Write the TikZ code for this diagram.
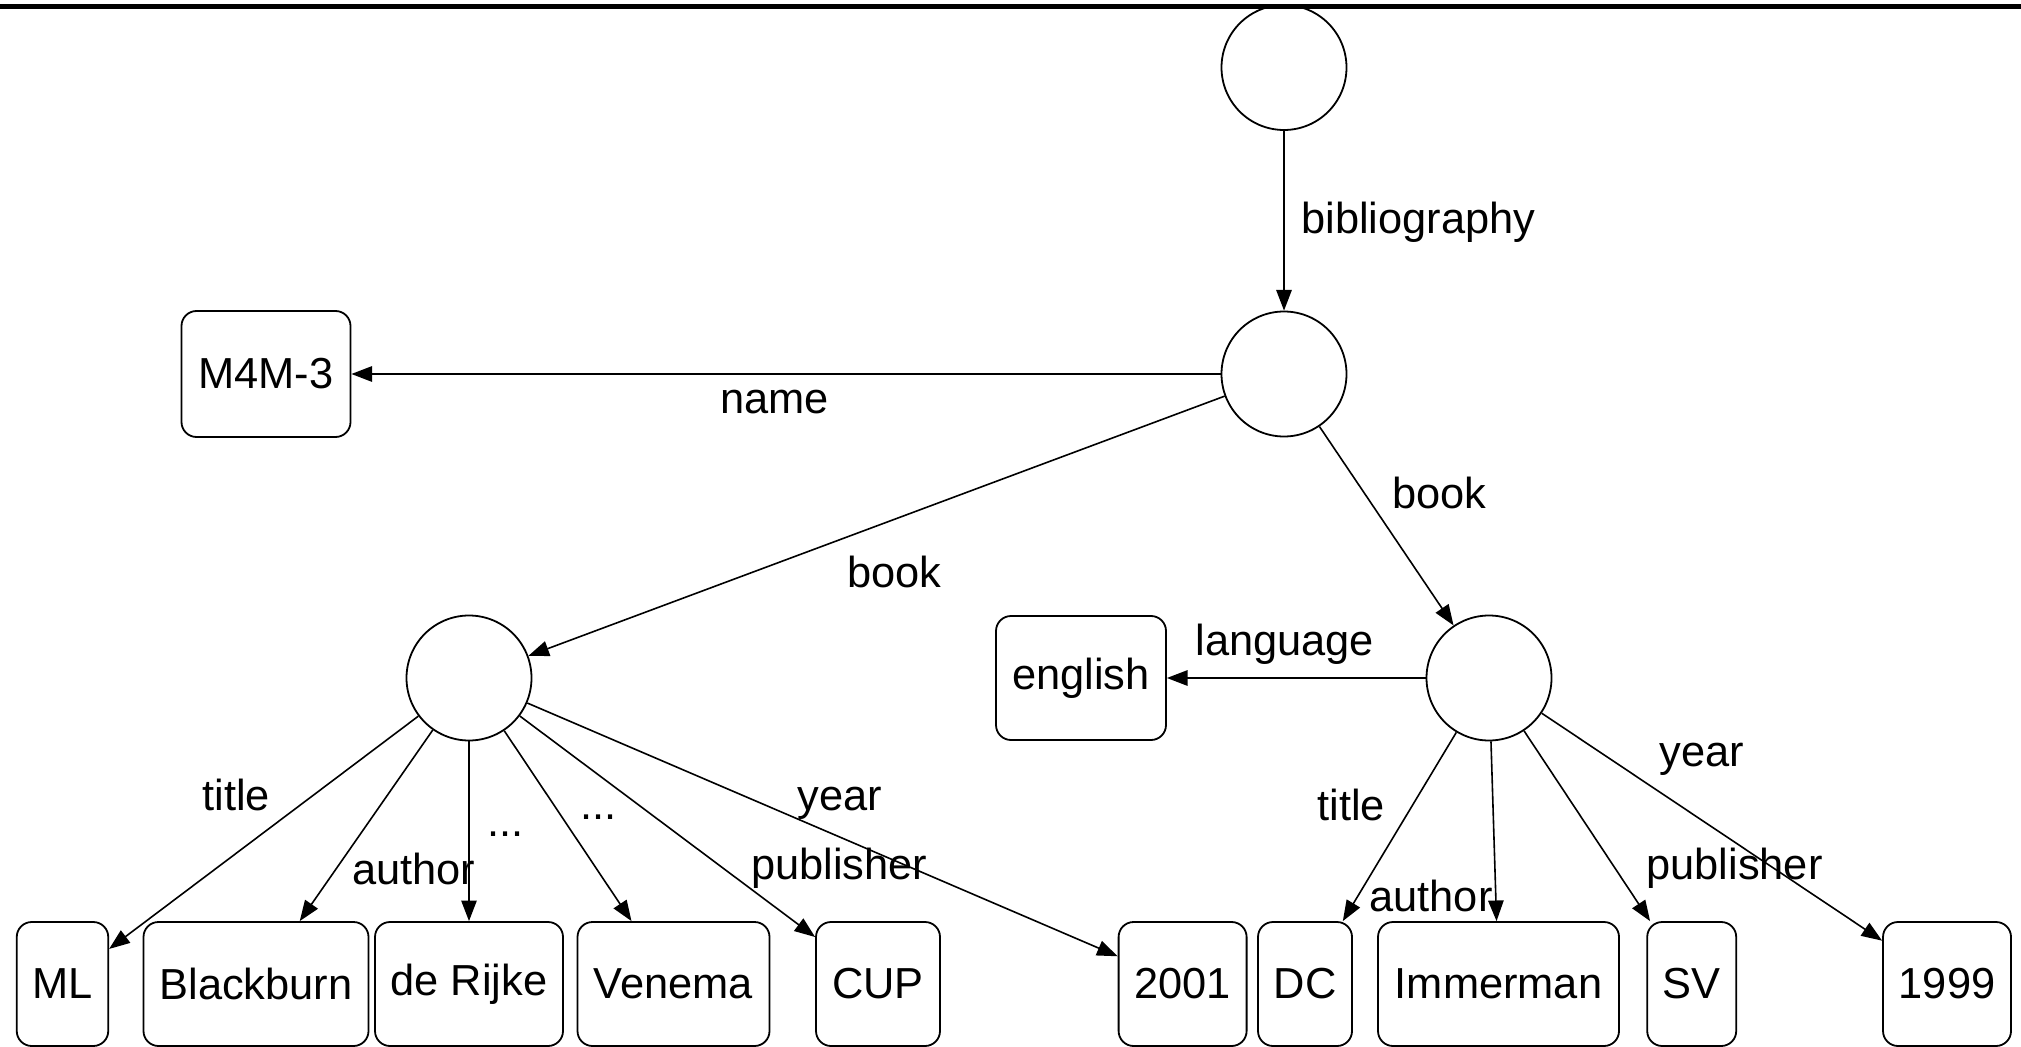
\documentclass[tikz,border=0pt]{standalone}
\usepackage{fontspec}
\setmainfont{Liberation Sans}
\usetikzlibrary{arrows.meta}
\begin{document}
\begin{tikzpicture}[x=0.5pt,y=-0.5pt,
  every node/.style={font=\fontsize{21.7pt}{26pt}\selectfont},
  circ/.style={draw, circle, line width=0.9pt, minimum size=62.5pt, inner sep=0pt},
  valbox/.style={draw, rectangle, rounded corners=7.5pt, line width=0.9pt, minimum height=62pt, inner sep=0pt},
  lbl/.style={anchor=base west, inner sep=0pt},
  arr/.style={line width=0.8pt, -{Triangle[length=10.3pt,width=7.7pt]}}
]
\useasboundingbox (0,0) rectangle (2021,1047);
% circles
\node[circ] (top) at (1284,67.5) {};
\node[circ] (root) at (1284,374) {};
\node[circ] (bookL) at (469,678) {};
\node[circ] (bookR) at (1489,678) {};
% value boxes
\node[valbox, minimum width=84.5pt, minimum height=63pt] (m4m) at (266,374) {M4M-3};
\node[valbox, minimum width=85pt] (english) at (1081,678) {english};
\node[valbox, minimum width=45.75pt] (ml) at (62.5,984) {ML};
\node[valbox, minimum width=112.5pt] (blackburn) at (256,984) {Blackburn};
\node[valbox, minimum width=94pt] (derijke) at (469,984) {de Rijke};
\node[valbox, minimum width=96pt] (venema) at (673.5,984) {Venema};
\node[valbox, minimum width=62pt] (cup) at (878,984) {CUP};
\node[valbox, minimum width=64pt] (y2001) at (1182.6,984) {2001};
\node[valbox, minimum width=47pt] (dc) at (1305,984) {DC};
\node[valbox, minimum width=120.5pt] (immerman) at (1498.5,984) {Immerman};
\node[valbox, minimum width=44.5pt] (sv) at (1691.7,984) {SV};
\node[valbox, minimum width=64pt] (y1999) at (1947,984) {1999};
% connectors
\draw[arr] (top) -- (root);
\draw[arr] (root) -- (m4m);
\draw[arr] (root) -- (bookL);
\draw[arr] (root) -- (bookR);
\draw[arr] (bookR) -- (english);
\draw[arr] (bookL) -- (ml);
\draw[arr] (bookL) -- (blackburn);
\draw[arr] (bookL) -- (derijke);
\draw[arr] (bookL) -- (venema);
\draw[arr] (bookL) -- (cup);
\draw[arr] (bookL) -- (y2001);
\draw[arr] (bookR) -- (dc);
\draw[arr] (bookR) -- (immerman);
\draw[arr] (bookR) -- (sv);
\draw[arr] (bookR) -- (y1999);
% labels
\node[lbl] (l-bib) at (1301,234) {bibliography};
\node[lbl] (l-name) at (720,414) {name};
\node[lbl] (l-bookL) at (847,587) {book};
\node[lbl] (l-bookR) at (1392,508) {book};
\node[lbl] (l-lang) at (1195,655) {language};
\node[lbl] (l-titleL) at (202,810) {title};
\node[lbl] (l-authorL) at (352,884) {author};
\node[lbl] (l-dots1) at (487,836) {...};
\node[lbl] (l-dots2) at (580,819) {...};
\node[lbl] (l-yearL) at (797,810) {year};
\node[lbl] (l-pubL) at (750.6,879) {publisher};
\node[lbl] (l-titleR) at (1317,820) {title};
\node[lbl] (l-authorR) at (1369,911) {author};
\node[lbl] (l-pubR) at (1646,879) {publisher};
\node[lbl] (l-yearR) at (1659,766) {year};
% top rule
\coordinate (ruleL) at (0,6.7);
\coordinate (ruleR) at (2021,6.7);
\draw[line width=2.5pt] (ruleL) -- (ruleR);
\end{tikzpicture}
\end{document}
